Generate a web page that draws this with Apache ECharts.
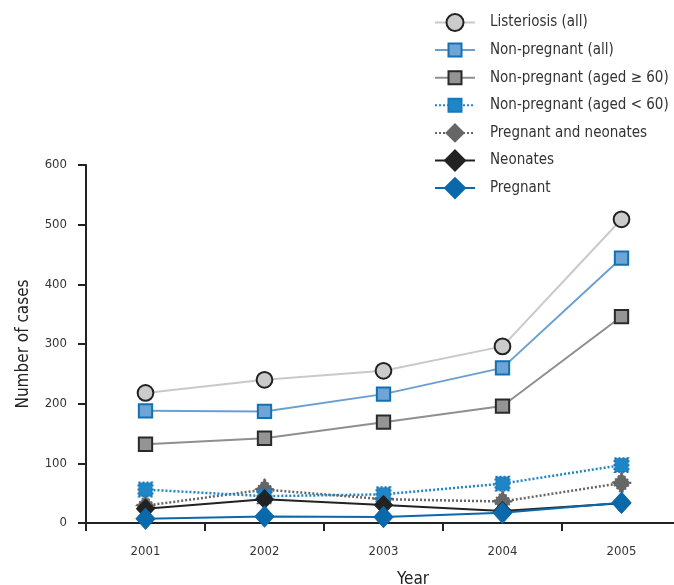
<!DOCTYPE html>
<html>
<head>
<meta charset="utf-8">
<script src="https://cdn.jsdelivr.net/npm/echarts@6/dist/echarts.min.js"></script>
<style>html,body{margin:0;padding:0;background:#fff}#c{width:674px;height:585px}</style>
</head>
<body>
<div id="c"></div>
<script>
const years = ['2001', '2002', '2003', '2004', '2005'];
const listeriosisAll = [218, 240, 255, 296, 509];
const nonPregnantAll = [188, 187, 216, 260, 444];
const nonPregnantOld = [132, 142, 169, 196, 346];
const nonPregnantYoung = [56, 45, 48, 66, 97];
const pregnantNeonates = [29, 56, 40, 36, 67];
const neonates = [24, 40, 30, 20, 33];
const pregnant = [7, 11, 10, 17, 34];
const yTicks = { min: 0, max: 600, interval: 100 };

const FONT = '"DejaVu Sans Condensed", "DejaVu Sans", sans-serif';
// symbol shapes padded inside a 20x20 box so legend icons get distinct sizes
const CIRCLE = 'path://M0,0M20,20M1.5,10a8.5,8.5 0 1,0 17,0a8.5,8.5 0 1,0 -17,0z';
const SQUARE = 'path://M0,0M20,20M3.5,3.5h13v13h-13z';
const DIAMOND_S = 'path://M0,0M20,20M10,1.5L18.5,10L10,18.5L1.5,10z';

const chart = echarts.init(document.getElementById('c'), null, { renderer: 'canvas' });

function series(name, data, o) {
  return {
    name: name, type: 'line', data: data,
    symbol: o.symbol, symbolSize: o.size,
    z: o.z || 2,
    lineStyle: { color: o.line, width: o.lw || 2, type: o.dash || 'solid' },
    itemStyle: { color: o.fill, borderColor: o.border, borderWidth: o.bw || 2, borderType: o.btype || 'solid', opacity: 1 },
    emphasis: { disabled: true },
    animation: false
  };
}

chart.setOption({
  backgroundColor: '#fff',
  textStyle: { fontFamily: FONT },
  grid: { left: 86, top: 165, width: 595, height: 358, containLabel: false, outerBoundsMode: 'none' },
  legend: {
    orient: 'vertical', left: 429, top: 6.5,
    itemWidth: 40, itemHeight: 25, itemGap: 5.6,
    textStyle: { fontFamily: FONT, fontSize: 15, lineHeight: 16, color: '#333', padding: [0, 0, 0, 10] },
    data: ['Listeriosis (all)', 'Non-pregnant (all)', 'Non-pregnant (aged ≥ 60)', 'Non-pregnant (aged < 60)', 'Pregnant and neonates', 'Neonates', 'Pregnant']
  },
  xAxis: {
    type: 'category', data: years, boundaryGap: true,
    name: 'Year', nameLocation: 'middle', nameGap: 48,
    nameTextStyle: { fontFamily: FONT, fontSize: 17, color: '#222', padding: [0, 0, 0, 59] },
    axisLine: { show: true, lineStyle: { color: '#222', width: 2 } },
    axisTick: { show: true, alignWithLabel: false, length: 8, lineStyle: { color: '#222', width: 2 } },
    axisLabel: { fontFamily: FONT, fontSize: 13, color: '#333', margin: 22 },
    splitLine: { show: false }
  },
  yAxis: {
    type: 'value', min: yTicks.min, max: yTicks.max, interval: yTicks.interval,
    name: 'Number of cases', nameLocation: 'middle', nameGap: 54, nameRotate: 90,
    nameTextStyle: { fontFamily: FONT, fontSize: 17, color: '#222' },
    axisLine: { show: true, lineStyle: { color: '#222', width: 2 } },
    axisTick: { show: true, length: 8, lineStyle: { color: '#222', width: 2 } },
    axisLabel: { fontFamily: FONT, fontSize: 13, color: '#333', margin: 19 },
    splitLine: { show: false }
  },
  series: [
    series('Listeriosis (all)', listeriosisAll, { symbol: CIRCLE, size: 18.5, line: '#c9c9c9', fill: '#cbcbcb', border: '#222' }),
    series('Non-pregnant (all)', nonPregnantAll, { symbol: SQUARE, size: 20.5, line: '#6a9fd2', fill: '#6fa5d6', border: '#1470b0' }),
    series('Non-pregnant (aged ≥ 60)', nonPregnantOld, { symbol: SQUARE, size: 20.5, line: '#8f8f8f', fill: '#949494', border: '#2a2a2a' }),
    series('Pregnant and neonates', pregnantNeonates, { symbol: DIAMOND_S, size: [21, 23.5], line: '#666', dash: [2, 2], lw: 2.5, fill: '#666', border: '#666', btype: 'dotted', z: 2 }),
    series('Non-pregnant (aged < 60)', nonPregnantYoung, { symbol: SQUARE, size: 21.5, line: '#1e86c6', dash: [2, 2], lw: 2.5, fill: '#1e86c6', border: '#1a78b8', btype: 'dotted', z: 3 }),
    series('Neonates', neonates, { symbol: 'diamond', size: [18, 19], line: '#222', fill: '#222', border: '#222', bw: 1, z: 3 }),
    series('Pregnant', pregnant, { symbol: 'diamond', size: [19, 21], line: '#0a69aa', fill: '#0a69aa', border: '#0a69aa', bw: 1, z: 4 })
  ]
});
</script>
</body>
</html>
